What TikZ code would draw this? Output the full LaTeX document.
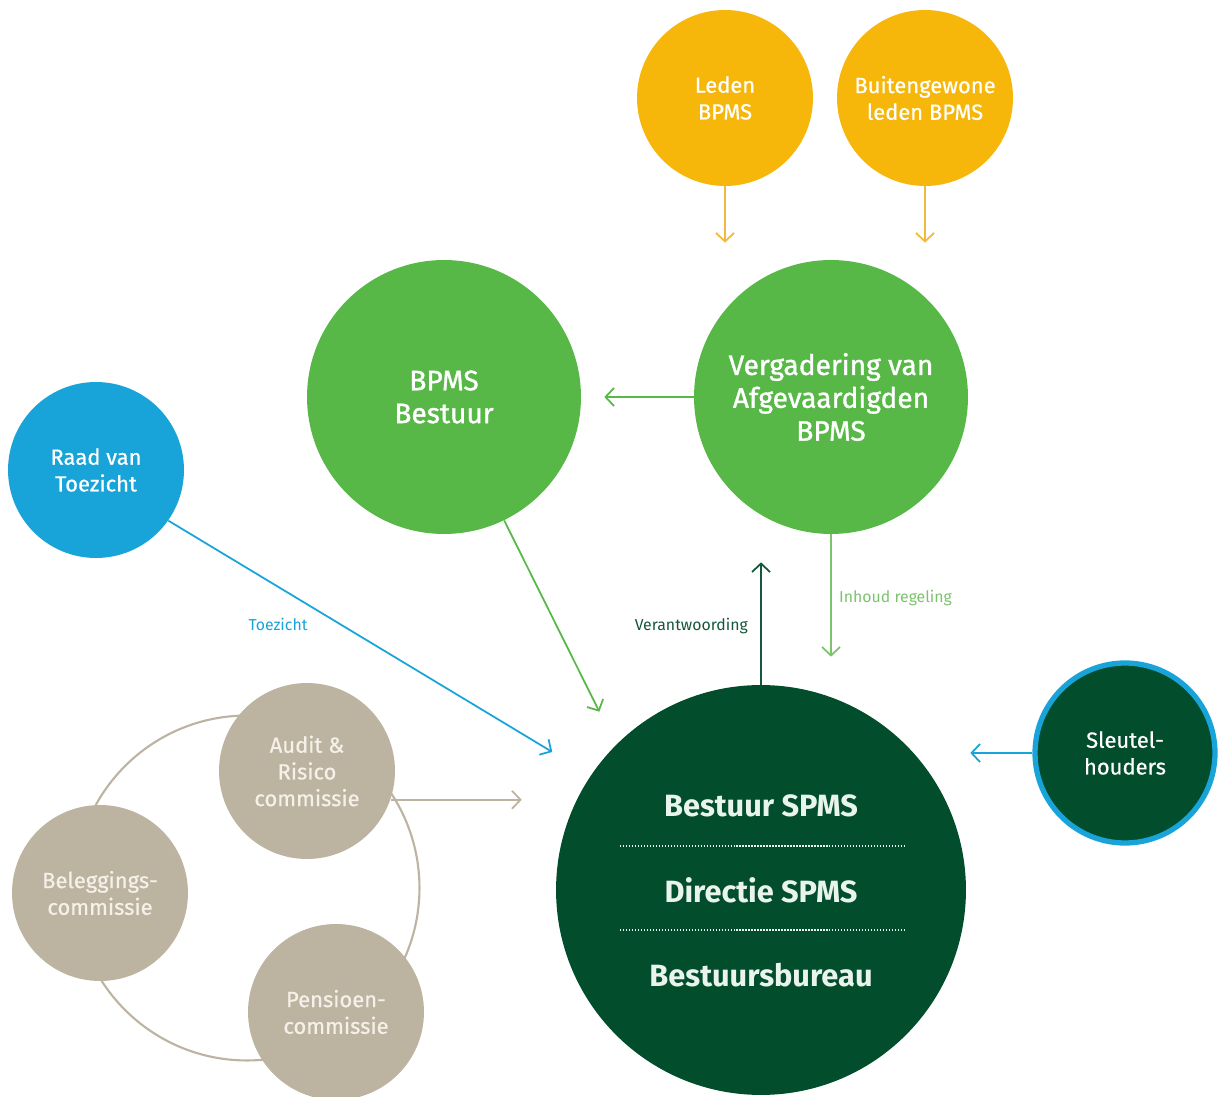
\documentclass[tikz,border=0pt]{standalone}
\usepackage{fontspec}
\setmainfont{Fira Sans}
\IfFontExistsTF{FiraSans-Medium.otf}
  {\newfontfamily\medium{FiraSans-Medium.otf}\newfontfamily\semi{FiraSans-SemiBold.otf}}
  {\newfontfamily\medium{Fira Sans}[FakeBold=0.6]\newfontfamily\semi{Fira Sans}[FakeBold=1.2]}
\usetikzlibrary{arrows.meta,positioning,calc}
\definecolor{geel}{HTML}{F6B60A}
\definecolor{geelpijl}{HTML}{F2BA3A}
\definecolor{groen}{HTML}{58B847}
\definecolor{lichtgroen}{HTML}{7CC36D}
\definecolor{donker}{HTML}{024D2C}
\definecolor{donkerpijl}{HTML}{15573A}
\definecolor{blauw}{HTML}{18A4D8}
\definecolor{zand}{HTML}{BCB3A1}
\definecolor{zandtekst}{HTML}{F6F1E8}
\definecolor{mint}{HTML}{E9F4EC}
\tikzset{bol/.style={circle,inner sep=0pt,align=center,text=white,font=\medium\fontsize{12.5}{15.2}\selectfont},
  klein/.style={bol,minimum size=3.52cm},
  groot/.style={bol,minimum size=5.48cm,fill=groen,font=\semi\fontsize{16}{18.7}\selectfont},
  commissie/.style={klein,fill=zand,text=zandtekst},
  kop/.style={text=mint,font=\bfseries\fontsize{17.5}{20}\selectfont},
  pijl/.style={-{Straight Barb[length=1.7mm,width=3.6mm]},line width=1pt},
  lab/.style={font=\fontsize{9}{10}\selectfont},
  stippel/.style={mint,line width=0.9pt,dash pattern=on 0.8pt off 0.9pt}}

\begin{document}
\begin{tikzpicture}[x=0.02cm,y=-0.02cm]
\useasboundingbox (0,0) rectangle (1220,1097);
% ring behind the committees
\node[circle,draw=zand,line width=1.2pt,minimum size=6.9cm] (ring) at (247,888) {};
\node[commissie] (audit) at (307,771) {Audit \&\\Risico\\commissie};
\node[commissie] (beleg) at (100,893) {Beleggings-\\commissie};
\node[commissie] (pensioen) at (336,1012) {Pensioen-\\commissie};
% top part
\node[klein,fill=geel] (leden) at (725,98) {Leden\\BPMS};
\node[klein,fill=geel] (buiten) at (925,98) {Buitengewone\\leden BPMS};
\node[groot] (bestuur) at (444,397) {BPMS\\Bestuur};
\node[groot] (verg) at (831,397) {Vergadering van\\Afgevaardigden\\BPMS};
\node[klein,fill=blauw] (raad) at (96,470) {Raad van\\Toezicht};
\node[bol,fill=donker,draw=blauw,line width=3pt,minimum size=3.6cm] (sleutel) at (1125,753) {Sleutel-\\houders};
% SPMS
\node[circle,fill=donker,minimum size=8.2cm] (spms) at (761,890) {};
\node[kop] (bsp) at (761,806) {Bestuur SPMS};
\node[kop] (dir) at (761,890) {Directie SPMS};
\node[kop] (bureau) at (761,975) {Bestuursbureau};
\draw[stippel] ($(spms)+(-141,-44)$) -- ++(285,0);
\draw[stippel] ($(spms)+(-141,40)$) -- ++(285,0);
% arrows
\draw[pijl,geelpijl,shorten >=0.34cm] (leden) -- (leden |- verg.north);
\draw[pijl,geelpijl,shorten >=0.34cm] (buiten) -- (buiten |- verg.north);
\draw[pijl,groen,shorten >=0.46cm] (verg) -- (bestuur);
\draw[pijl,groen,shorten >=0.74cm] (bestuur.-64) -- (spms.135);
\draw[pijl,lichtgroen,shorten >=0.56cm] (verg) -- (verg |- spms.north);
\draw[pijl,donkerpijl,shorten >=0.56cm] (spms) -- (spms |- verg.south);
\draw[pijl,blauw,shorten >=0.9cm] (raad.-35) -- (spms.146);
\draw[pijl,zand,shorten >=0.68cm] (audit.-19) -- (audit.-19 -| spms.west);
\draw[pijl,blauw,shorten >=0.08cm] (sleutel) -- (sleutel -| spms.east);
\node[lab,text=lichtgroen,anchor=west] (inhoud) at (833,598) {Inhoud regeling};
\node[lab,text=donkerpijl,anchor=east] (verant) at (754,626) {Verantwoording};
\node[lab,text=blauw] (toez) at (278,624) {Toezicht};
\end{tikzpicture}
\end{document}
